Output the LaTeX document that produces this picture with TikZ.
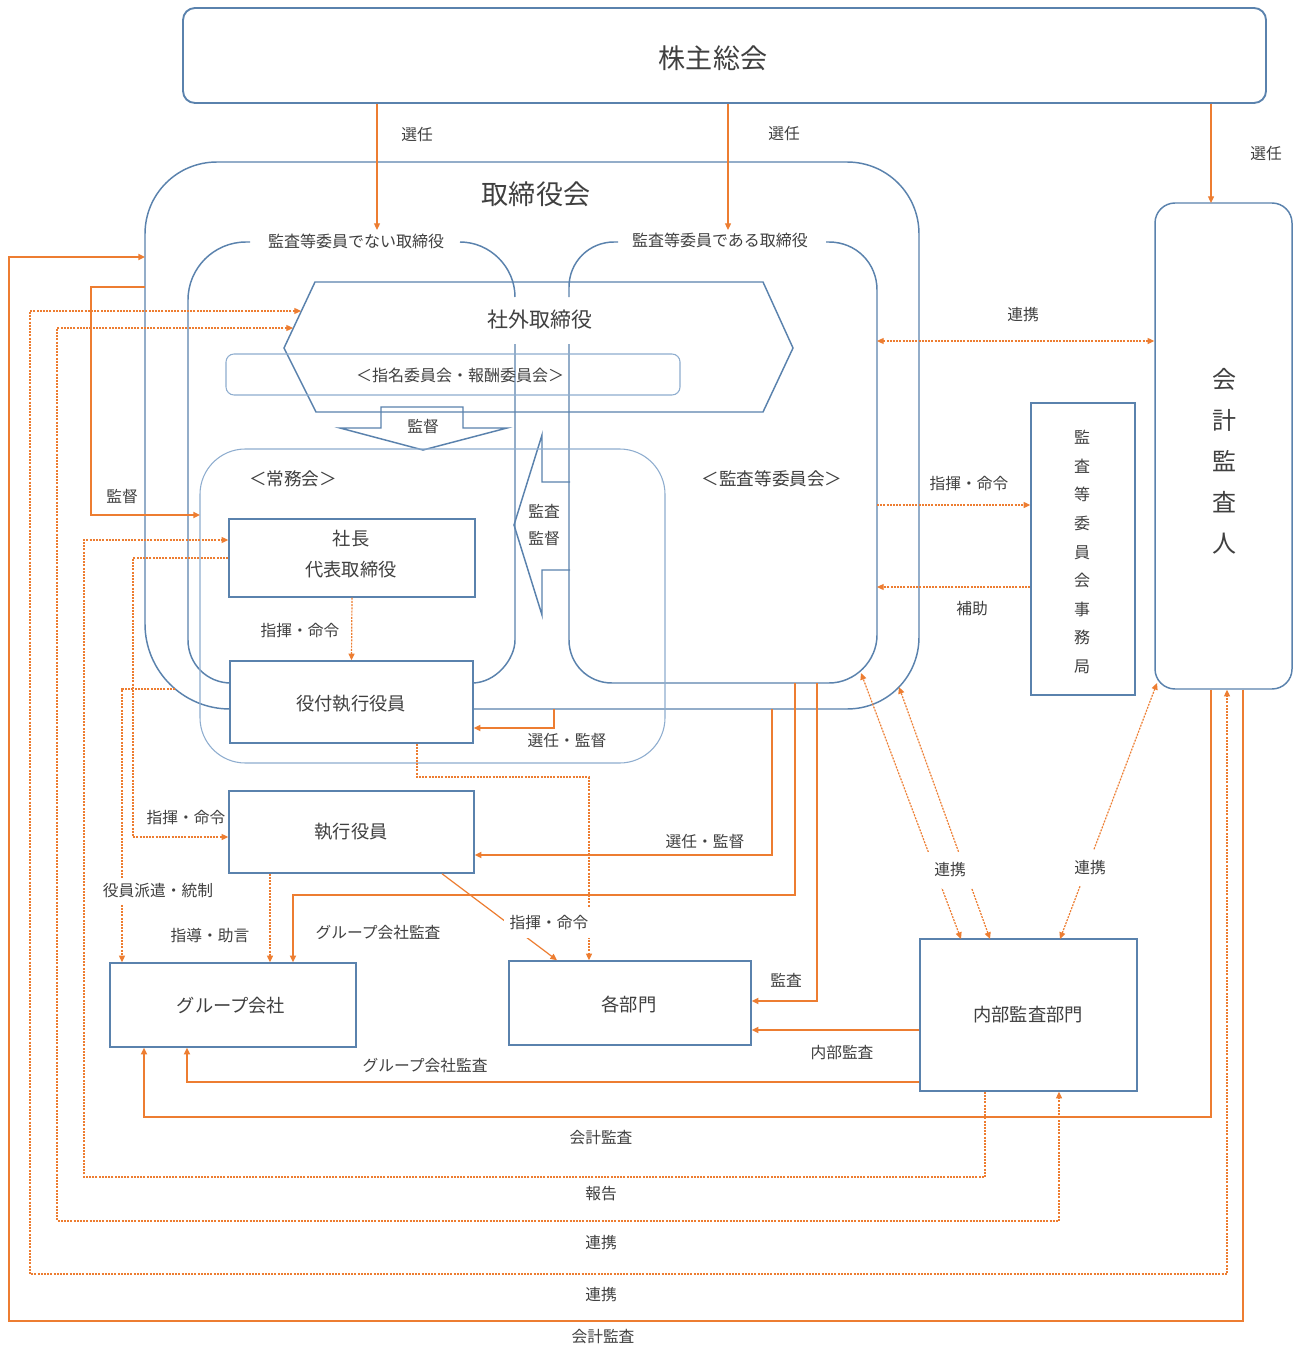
\documentclass[tikz,border=0pt]{standalone}
\usepackage{fontspec}
\setmainfont{Noto Sans CJK JP}
\usetikzlibrary{arrows.meta,fit,calc}
\definecolor{bl}{HTML}{5A82AD}
\definecolor{bll}{HTML}{8EADCF}
\definecolor{orr}{HTML}{ED7D31}
\definecolor{tx}{HTML}{404040}
\newcommand\jfXL{\fontsize{20.3}{24}\selectfont}
\newcommand\jfL{\fontsize{15.7}{19}\selectfont}
\newcommand\jfM{\fontsize{13.7}{16}\selectfont}
\newcommand\jfMS{\fontsize{13.2}{16}\selectfont}
\newcommand\jfS{\fontsize{11.8}{14}\selectfont}
\begin{document}
\begin{tikzpicture}[x=0.75pt,y=-0.75pt,
 frame/.style={draw=bl,line width=1.1pt},
 thinframe/.style={draw=bll,line width=0.8pt},
 box/.style={frame,fill=white,inner sep=0pt},
 btxt/.style={text=tx,font=\jfM,inner sep=1pt},
 tip/.style={arrows={-Triangle[length=5pt,width=4.5pt]}},
 dtip/.style={arrows={Triangle[length=5pt,width=4.5pt]-Triangle[length=5pt,width=4.5pt]}},
 sconn/.style={draw=orr,line width=1.3pt},
 tconn/.style={draw=orr,line width=0.9pt},
 dconn/.style={draw=orr,line width=0.9pt,dash pattern=on 1.5pt off 0.9pt},
 lbl/.style={text=tx,font=\jfS,inner sep=1pt},
 gap/.style={lbl,fill=white},
]
\useasboundingbox (0,0) rectangle (1294,1348);
\fill[white] (0,0) rectangle (1294,1348);

% ---------------- board (取締役会) ----------------
\draw[frame] (145,234) .. controls (145,194) and (177,162) .. (217,162) -- (847,162)
  .. controls (887,162) and (919,194) .. (919,234) -- (919,637)
  .. controls (919,677) and (887,709) .. (847,709) -- (230,709)
  .. controls (183,709) and (145,671) .. (145,624) -- cycle;
\node[text=tx,font=\jfXL] (boardT) at (536,194) {取締役会};

% non-audit directors
\draw[frame] (250,242) -- (246,242) .. controls (214,242) and (188,268) .. (188,300) -- (188,640)
  .. controls (188,664) and (207,683) .. (231,683) -- (472,683)
  .. controls (496,683) and (515,659) .. (515,640) -- (515,344);
\draw[frame] (460,242) .. controls (490,242) and (515,267) .. (515,297);
\node[lbl,font=\fontsize{12}{14}\selectfont] (ndT) at (356,241) {監査等委員でない取締役};

% audit directors
\draw[frame] (569,297) -- (569,287) .. controls (569,262) and (589,242) .. (614,242) -- (618,242);
\draw[frame] (826,242) -- (829,242) .. controls (856,242) and (877,263) .. (877,290) -- (877,635)
  .. controls (877,661) and (855,683) .. (829,683) -- (612,683)
  .. controls (588,683) and (569,664) .. (569,640) -- (569,344);
\node[lbl,font=\fontsize{12}{14}\selectfont] (adT) at (720,240) {監査等委員である取締役};
\node[text=tx,font=\jfMS] (acT) at (772,479) {＜監査等委員会＞};

% outside directors hexagon
\draw[frame] (284,348) -- (315,282) -- (763,282) -- (793,348) -- (763,412) -- (316,412) -- cycle;
\node[text=tx,font=\jfL] (odT) at (540,320) {社外取締役};
\draw[thinframe,rounded corners=6pt] (226,354) rectangle (680,395);
\node[text=tx,font=\fontsize{12}{14}\selectfont] (ncT) at (460,375) {＜指名委員会・報酬委員会＞};

% down block arrow 監督
\draw[frame] (381,407) -- (463,407) -- (463,428) -- (507,428) -- (423,450) -- (340,428) -- (381,428) -- cycle;
\node[lbl] (supT) at (423,427) {監督};

% left block arrow 監査・監督
\draw[frame] (570,482) -- (542,482) -- (542,435) -- (514,525) -- (542,615) -- (542,570) -- (570,570);
\node[lbl] (audT1) at (544,511) {監査};
\node[lbl] (audT2) at (544,539) {監督};

% 常務会
\draw[thinframe,rounded corners=34pt] (200,449) rectangle (665,763);
\node[text=tx,font=\jfMS] (jmT) at (293,479) {＜常務会＞};

% ---------------- boxes ----------------
\node[frame,inner sep=0pt,rounded corners=9pt,line width=1.4pt,fit={(183,8) (1266,103)}] (gm) {};
\node[text=tx,font=\jfXL] (gmT) at (713,58) {株主総会};
\node[frame,inner sep=0pt,rounded corners=15pt,fit={(1155,203) (1292,689)}] (auditor) {};
\node[text=tx,font=\fontsize{18}{30.75}\selectfont,align=center] (auditorT) at (1224,461) {会\\計\\監\\査\\人};
\node[box,fit={(1031,403) (1135,695)}] (sec) {};
\node[text=tx,font=\fontsize{12}{21.45}\selectfont,align=center] (secT) at (1082,552) {監\\査\\等\\委\\員\\会\\事\\務\\局};
\node[box,fit={(229,519) (475,597)}] (pres) {};
\node[btxt] (presT1) at (351,539) {社長};
\node[btxt] (presT2) at (351,570) {代表取締役};
\node[box,fit={(230,661) (473,743)}] (yaku) {};
\node[btxt] (yakuT) at (351,704) {役付執行役員};
\node[box,fit={(229,791) (474,873)}] (exec) {};
\node[btxt] (execT) at (351,832) {執行役員};
\node[box,fit={(110,963) (356,1047)}] (grp) {};
\node[btxt] (grpT) at (231,1006) {グループ会社};
\node[box,fit={(509,961) (751,1045)}] (dept) {};
\node[btxt] (deptT) at (629,1005) {各部門};
\node[box,fit={(920,939) (1137,1091)}] (ia) {};
\node[btxt] (iaT) at (1028,1015) {内部監査部門};

% ---------------- coordinates ----------------
\coordinate (ndTop) at (377,230);
\coordinate (adTop) at (728,230);
\coordinate (auTop) at (1211,203);
\coordinate (bR1) at (877,341);
\coordinate (bR2) at (877,505);
\coordinate (bR3) at (877,587);
\coordinate (adBR) at (861,673);
\coordinate (bdBR) at (899,687);
\coordinate (auBL) at (1157,683);
\coordinate (iaT1) at (961,939);
\coordinate (iaT2) at (990,939);
\coordinate (iaT3) at (1060,939);
\coordinate (bdB1) at (554,709);
\coordinate (bdB2) at (772,709);
\coordinate (adB1) at (795,683);
\coordinate (adB2) at (817,683);
\coordinate (bdL1) at (145,257);
\coordinate (bdL2) at (145,287);
\coordinate (bdL3) at (175,689);
\coordinate (hx1) at (301,311);
\coordinate (hx2) at (293,328);
\coordinate (jmL) at (200,515);

% ---------------- connectors ----------------
\draw[tconn,tip] (gm.south -| ndTop) -- (ndTop);
\draw[tconn,tip] (gm.south -| adTop) -- (adTop);
\draw[tconn,tip] (gm.south -| auTop) -- (auTop);
\node[lbl] (l1) at (417,135) {選任};
\node[lbl] (l2) at (784,134) {選任};
\node[lbl] (l3) at (1266,154) {選任};

\draw[dconn,dtip] (bR1) -- (auditor.west |- bR1);
\node[lbl] (l4) at (1023,315) {連携};
\draw[dconn,tip] (bR2) -- (sec.west |- bR2);
\node[lbl] (l5) at (969,484) {指揮・命令};
\draw[dconn,tip] (sec.west |- bR3) -- (bR3);
\node[lbl] (l6) at (972,609) {補助};

\draw[dconn,dtip] (iaT1) -- (adBR);
\draw[dconn,dtip] (iaT2) -- (bdBR);
\draw[dconn,dtip] (iaT3) -- (auBL);
\node[gap,inner xsep=8pt,inner ysep=8pt] (l7) at (950,870) {連携};
\node[gap,inner xsep=6pt,inner ysep=8pt] (l8) at (1090,868) {連携};

\draw[sconn,tip] (bdB1) -- (554,728) -- (yaku.east |- 0,728);
\node[lbl] (l9) at (567,741) {選任・監督};
\draw[sconn,tip] (bdB2) |- (exec.east |- 0,855);
\node[lbl] (l10) at (705,842) {選任・監督};
\draw[sconn,tip] (adB1) -- (795,895) -| (grp.north -| 293,0);
\node[lbl] (l11) at (378,933) {グループ会社監査};
\draw[sconn,tip] (adB2) |- (dept.east |- 0,1001);
\node[lbl] (l12) at (786,980) {監査};
\draw[sconn,tip] (ia.west |- 0,1030) -- (dept.east |- 0,1030);
\node[lbl] (l13) at (842,1053) {内部監査};
\draw[sconn,tip] (ia.west |- 0,1082) -| (grp.south -| 187,0);
\node[lbl] (l14) at (425,1066) {グループ会社監査};
\draw[sconn,tip] (auditor.south -| 1211,0) -- (1211,1117) -| (grp.south -| 144,0);
\node[lbl] (l15) at (601,1138) {会計監査};
\draw[dconn,tip] (ia.south -| 985,0) -- (985,1177) -| (84,540) -- (pres.west |- 0,540);
\node[lbl] (l16) at (601,1194) {報告};
\draw[dconn,dtip] (hx2) -- (57,328) -- (57,1221) -| (ia.south -| 1059,0);
\node[lbl] (l17) at (601,1243) {連携};
\draw[dconn,dtip] (hx1) -- (30,311) -- (30,1274) -| (auditor.south -| 1227,0);
\node[lbl] (l18) at (601,1295) {連携};
\draw[sconn,tip] (auditor.south -| 1243,0) -- (1243,1321) -- (9,1321) |- (bdL1);
\node[lbl] (l19) at (603,1337) {会計監査};
\draw[sconn,tip] (bdL2) -- (91,287) |- (jmL);
\node[lbl] (l20) at (122,497) {監督};
\draw[dconn,tip] (pres.west |- 0,558) -- (133,558) |- (exec.west |- 0,837);
\node[lbl] (l21) at (186,818) {指揮・命令};
\draw[dconn,tip] (bdL3) -- (122,689) -- (grp.north -| 122,0);
\node[gap,inner ysep=4pt] (l22) at (158,891) {役員派遣・統制};
\draw[dconn,tip] (exec.south -| 270,0) -- (grp.north -| 270,0);
\node[lbl] (l23) at (210,936) {指導・助言};
\draw[dconn,tip] (pres.south) -- (yaku.north);
\node[lbl] (l24) at (300,631) {指揮・命令};
\draw[dconn,tip] (yaku.south -| 417,0) -- (417,777) -| (dept.north -| 589,0);
\draw[tconn,tip] (exec.south -| 442,0) -- (dept.north -| 557,0);
\node[gap,inner xsep=4pt,inner ysep=6pt] (l25) at (549,923) {指揮・命令};
\end{tikzpicture}
\end{document}
